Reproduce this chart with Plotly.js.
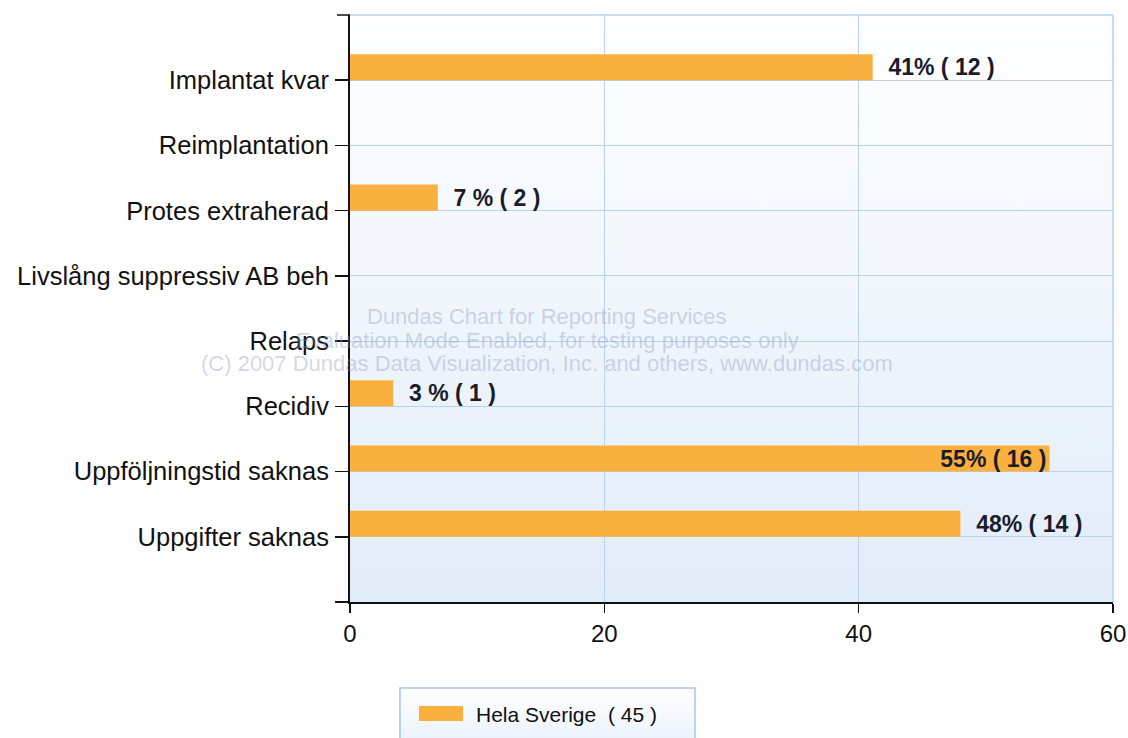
<!DOCTYPE html>
<html>
<head>
<meta charset="utf-8">
<script src="https://cdn.plot.ly/plotly-3.0.1.min.js"></script>
<style>
html,body{margin:0;padding:0;background:#fff;}
#chart{width:1128px;height:738px;}
</style>
</head>
<body>
<div id="chart"></div>
<script>
// Categories, top to bottom as shown in the chart
const categories = ['Implantat kvar', 'Reimplantation', 'Protes extraherad', 'Livslång suppressiv AB beh', 'Relaps', 'Recidiv', 'Uppföljningstid saknas', 'Uppgifter saknas'];
// Percent values (bar lengths)
const percents = [41.1, 0, 6.9, 0, 0, 3.4, 55.0, 48.0];
// Counts shown in the labels
const counts = [12, 0, 2, 0, 0, 1, 16, 14];
const seriesName = 'Hela Sverige';
const seriesTotal = 45;
const xTicks = [0, 20, 40, 60];
const watermark = ['Dundas Chart for Reporting Services', 'Evaluation Mode Enabled, for testing purposes only', '(C) 2007 Dundas Data Visualization, Inc. and others, www.dundas.com'];

const labels = percents.map((p, i) => {
  if (!counts[i]) return '';
  const r = Math.round(p);
  return r + (r < 10 ? ' %' : '%') + ' ( ' + counts[i] + ' )';
});
const positions = percents.map(p => p > 52 ? 'inside' : 'outside');
const labelsPadded = labels.map((t, i) => (t && positions[i] === 'outside') ? '\u00a0\u00a0' + t : t);

const barColor = '#fab03e';
const gridColor = '#b9d2f0';
const labelFont = {family: 'Liberation Sans, Arial, sans-serif', size: 23, color: '#1b1b2a', weight: 'bold'};

function gradSvg(c1, c2) {
  const svg = "<svg xmlns='http://www.w3.org/2000/svg' width='10' height='100' preserveAspectRatio='none'>" +
    "<defs><linearGradient id='g' x1='0' y1='0' x2='0' y2='1'><stop offset='0' stop-color='" + c1 + "'/><stop offset='1' stop-color='" + c2 + "'/></linearGradient></defs>" +
    "<rect width='10' height='100' fill='url(#g)'/></svg>";
  return 'data:image/svg+xml;charset=utf-8,' + encodeURIComponent(svg);
}

const trace = {
  type: 'bar',
  orientation: 'h',
  y: categories,
  x: percents,
  name: seriesName,
  marker: {color: barColor, line: {width: 0}},
  offset: 0,
  width: 0.4,
  text: labelsPadded,
  textposition: positions,
  insidetextanchor: 'end',
  constraintext: 'none',
  cliponaxis: false,
  textfont: labelFont,
  insidetextfont: labelFont,
  outsidetextfont: labelFont,
  hoverinfo: 'x+y',
  showlegend: false
};

const plotW = 1128 - 350 - 15;
const plotH = 738 - 15 - 136;
const px = x => (x - 350) / plotW;
const py = y => (602 - y) / plotH;

const annotations = watermark.map((t, i) => ({
  text: t, xref: 'paper', yref: 'paper', x: px(547), y: py([316, 340, 363][i]),
  xanchor: 'center', yanchor: 'middle', showarrow: false,
  font: {family: 'Liberation Sans, Arial, sans-serif', size: 22, color: 'rgba(140,148,190,0.38)'}
}));
annotations.push({
  text: seriesName + '  ( ' + seriesTotal + ' )', xref: 'paper', yref: 'paper', x: px(474), y: py(714),
  xanchor: 'left', yanchor: 'middle', showarrow: false,
  font: {family: 'Liberation Sans, Arial, sans-serif', size: 21, color: '#111'}
});

const layout = {
  width: 1128, height: 738,
  margin: {l: 350, r: 15, t: 15, b: 136, pad: 0},
  paper_bgcolor: '#ffffff',
  plot_bgcolor: 'rgba(0,0,0,0)',
  showlegend: false,
  font: {family: 'Liberation Sans, Arial, sans-serif', color: '#111'},
  xaxis: {
    range: [0, 60], tickvals: xTicks, ticktext: xTicks.map(String),
    showgrid: true, gridcolor: gridColor, gridwidth: 1,
    showline: true, linecolor: '#111', linewidth: 2,
    ticks: 'outside', ticklen: 9, tickwidth: 1.5, tickcolor: '#111',
    tickfont: {size: 24, color: '#111'}, zeroline: false, fixedrange: true
  },
  yaxis: {
    type: 'category', categoryorder: 'array', categoryarray: categories.slice().reverse(),
    range: [-1, 8],
    showgrid: true, gridcolor: gridColor, gridwidth: 1,
    showline: true, linecolor: '#111', linewidth: 2,
    ticks: 'outside', ticklen: 13, tickwidth: 1.5, tickcolor: '#111',
    ticklabelstandoff: 1,
    tickfont: {size: 25.5, color: '#111'}, zeroline: false, fixedrange: true
  },
  images: [
    {source: gradSvg('#ffffff', '#e1ecf9'), xref: 'paper', yref: 'paper', x: 0, y: 1, sizex: 1, sizey: 1, sizing: 'stretch', layer: 'below', xanchor: 'left', yanchor: 'top'},
    {source: gradSvg('#ffffff', '#e8f1fb'), xref: 'paper', yref: 'paper', x: px(400), y: py(688), sizex: px(695) - px(400), sizey: py(688) - py(750), sizing: 'stretch', layer: 'below', xanchor: 'left', yanchor: 'top'}
  ],
  shapes: [
    {type: 'line', xref: 'paper', yref: 'paper', x0: 0, x1: 1, y0: 1, y1: 1, line: {color: gridColor, width: 1.5}},
    {type: 'line', xref: 'paper', yref: 'paper', x0: 1, x1: 1, y0: 0, y1: 1, line: {color: gridColor, width: 1.5}},
    {type: 'line', xref: 'paper', yref: 'paper', x0: px(337), x1: 0, y0: 1, y1: 1, line: {color: '#111', width: 1.5}},
    {type: 'line', xref: 'paper', yref: 'paper', x0: px(335), x1: 0, y0: 0, y1: 0, line: {color: '#111', width: 2}},
    {type: 'rect', xref: 'paper', yref: 'paper', x0: px(400), x1: px(695), y0: py(688), y1: py(750), line: {color: '#a9c7ee', width: 1.5}, fillcolor: 'rgba(0,0,0,0)'},
    {type: 'rect', xref: 'paper', yref: 'paper', x0: px(419), x1: px(463), y0: py(706), y1: py(721), line: {width: 0}, fillcolor: barColor}
  ],
  annotations: annotations
};

Plotly.newPlot('chart', [trace], layout, {displayModeBar: false, staticPlot: true});
</script>
</body>
</html>
